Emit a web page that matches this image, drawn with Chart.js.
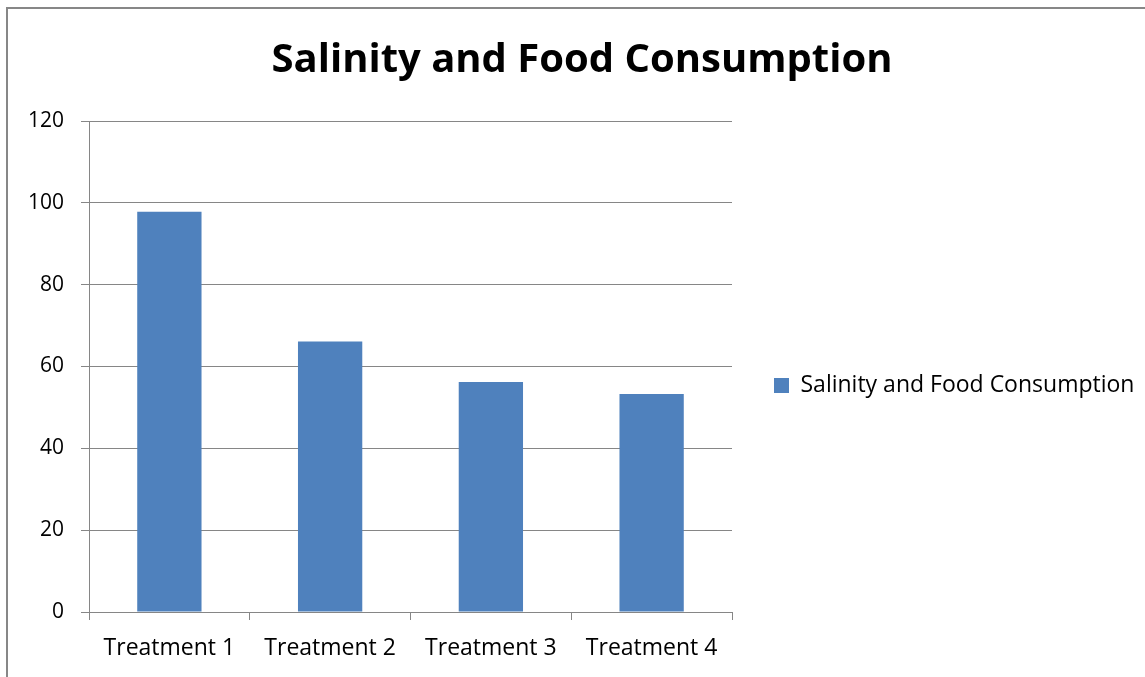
<!DOCTYPE html>
<html>
<head>
<meta charset="utf-8">
<script src="https://cdn.jsdelivr.net/npm/chart.js@4/dist/chart.umd.min.js"></script>
<style>
  body { margin: 0; background: #fff; }
  #wrap { position: relative; width: 1145px; height: 677px; overflow: hidden; }
  #frame { position: absolute; left: 6px; top: 7px; width: 2000px; height: 2000px;
           border-left: 2px solid #878787; border-top: 2px solid #878787; pointer-events: none; }
  canvas { position: absolute; left: 0; top: 0; }
</style>
</head>
<body>
<div id="wrap">
  <canvas id="chart" width="1145" height="677"></canvas>
  <div id="frame"></div>
</div>
<script>
// data
var categories = ['Treatment 1', 'Treatment 2', 'Treatment 3', 'Treatment 4'];
var consumption = [97.8, 66.1, 56.2, 53.3];
var seriesName = 'Salinity and Food Consumption';
var yMin = 0, yMax = 120, yStep = 20;

var FONT = 'Open Sans';
var gridColor = '#868686';
var barColor = '#4F81BD';

// legend sits right of the plot, which must end at x=732; title centre ~582
var legendPad = 42, legendBox = 15, legendFont = 23;
var mctx = document.createElement('canvas').getContext('2d');
mctx.font = legendFont + 'px "' + FONT + '"';
var legendNatural = legendPad + legendBox + legendFont / 2 + mctx.measureText(seriesName).width + 10;
var padRight = Math.max(0, Math.round(1145 - 732 - legendNatural));
var padLeft = padRight + 19;
var legendMax = 1145 - 732 - padRight;

var ctx = document.getElementById('chart').getContext('2d');
var chart = new Chart(ctx, {
  type: 'bar',
  data: {
    labels: categories,
    datasets: [{
      label: seriesName,
      data: consumption,
      backgroundColor: barColor,
      borderWidth: 0,
      categoryPercentage: 1.0,
      barPercentage: 0.4
    }]
  },
  options: {
    responsive: false,
    animation: false,
    layout: { padding: { left: padLeft, right: padRight, top: 0, bottom: 0 } },
    plugins: {
      title: {
        display: true,
        text: 'Salinity and Food Consumption',
        color: '#000',
        font: { family: FONT, size: 40, weight: 'bold' },
        padding: { top: 37, bottom: 36 }
      },
      legend: {
        position: 'right',
        maxWidth: legendMax,
        // empty title only pushes the entry down a little
        title: { display: true, text: '', font: { size: 10 }, padding: { top: 41, bottom: 41 } },
        labels: {
          color: '#000',
          font: { family: FONT, size: legendFont },
          boxWidth: legendBox,
          boxHeight: legendBox,
          padding: legendPad
        }
      },
      tooltip: { enabled: false }
    },
    scales: {
      x: {
        grid: { display: true, offset: true, drawOnChartArea: false, color: gridColor, tickLength: 8 },
        border: { color: gridColor },
        ticks: { color: '#000', font: { family: FONT, size: 23 }, padding: 15, maxRotation: 0 },
        afterFit: function (scale) { scale.height = 65; }
      },
      y: {
        min: yMin,
        max: yMax,
        ticks: { stepSize: yStep, color: '#000', font: { family: FONT, size: 21 }, padding: 17 },
        grid: { color: gridColor, tickLength: 8 },
        border: { color: gridColor },
        afterFit: function (scale) { scale.width = 89 - padLeft; }
      }
    }
  }
});
</script>
</body>
</html>
